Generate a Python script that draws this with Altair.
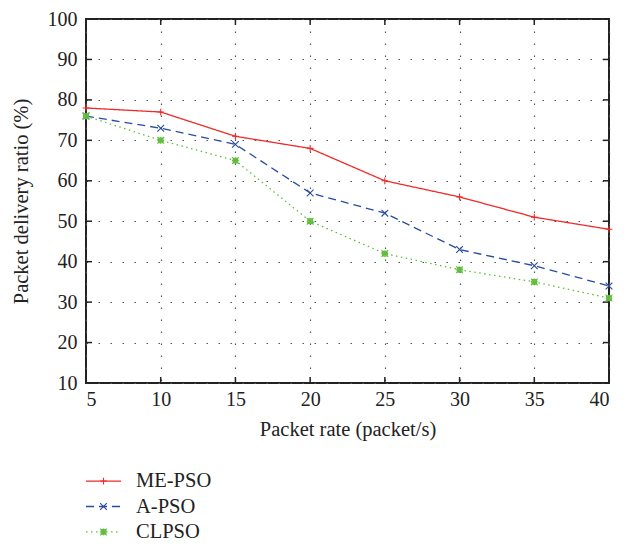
import altair as alt
import pandas as pd

# ---- data ----
packet_rate = [5, 10, 15, 20, 25, 30, 35, 40]
me_pso = [78, 77, 71, 68, 60, 56, 51, 48]
a_pso = [76, 73, 69, 57, 52, 43, 39, 34]
clpso = [76, 70, 65, 50, 42, 38, 35, 31]
series_names = ["ME-PSO", "A-PSO", "CLPSO"]
x_ticks = [5, 10, 15, 20, 25, 30, 35, 40]
y_ticks = [10, 20, 30, 40, 50, 60, 70, 80, 90, 100]

colors = ["#ee2a2a", "#2b4ba0", "#62bd3c"]
dashes = [[1, 0], [8, 5], [1.5, 3.5]]
shapes = [
    "M-1,0H1M0,-1V1",
    "M-1,-1L1,1M-1,1L1,-1",
    "M-1,-1L1,1M-1,1L1,-1M-1,0H1M0,-1V1M-0.7,-0.7H0.7V0.7H-0.7Z",
]

rows = []
for name, vals in zip(series_names, [me_pso, a_pso, clpso]):
    for x, v in zip(packet_rate, vals):
        rows.append({"rate": x, "pdr": v, "series": name})
df = pd.DataFrame(rows)

W, H = 523, 364
FONT = "Liberation Serif"

xs = alt.Scale(domain=[5, 40], nice=False, zero=False)
ys = alt.Scale(domain=[10, 100], nice=False, zero=False)
cs = alt.Scale(domain=series_names, range=colors)
ds = alt.Scale(domain=series_names, range=dashes)
ss = alt.Scale(domain=series_names, range=shapes)

x_enc = alt.X(
    "rate:Q", scale=xs, title="Packet rate (packet/s)",
    axis=alt.Axis(values=x_ticks, grid=True, domain=False, ticks=False,
                  labelPadding=6, titlePadding=10),
)
y_enc = alt.Y(
    "pdr:Q", scale=ys, title="Packet delivery ratio (%)",
    axis=alt.Axis(values=y_ticks, grid=True, domain=False, ticks=False,
                  labelPadding=9, titlePadding=16),
)

base = alt.Chart(df)
lines = base.mark_line(strokeWidth=1.3).encode(
    x=x_enc, y=y_enc,
    color=alt.Color("series:N", scale=cs, legend=None),
    strokeDash=alt.StrokeDash("series:N", scale=ds, legend=None),
)
points = base.mark_point(filled=False, size=45, strokeWidth=1.1, opacity=1).encode(
    x=alt.X("rate:Q", scale=xs),
    y=alt.Y("pdr:Q", scale=ys),
    color=alt.Color("series:N", scale=cs, legend=None),
    shape=alt.Shape("series:N", scale=ss, legend=None),
)

ytk = alt.Chart(pd.DataFrame({"t": y_ticks}))
xtk = alt.Chart(pd.DataFrame({"t": x_ticks}))
tick_style = dict(color="#222", strokeWidth=1.5)
ticks_left = ytk.mark_rule(**tick_style).encode(
    y=alt.Y("t:Q", scale=ys), x=alt.value(0), x2=alt.value(6))
ticks_right = ytk.mark_rule(**tick_style).encode(
    y=alt.Y("t:Q", scale=ys), x=alt.value(W - 6), x2=alt.value(W))
ticks_top = xtk.mark_rule(**tick_style).encode(
    x=alt.X("t:Q", scale=xs), y=alt.value(0), y2=alt.value(6))
ticks_bottom = xtk.mark_rule(**tick_style).encode(
    x=alt.X("t:Q", scale=xs), y=alt.value(H - 6), y2=alt.value(H))

main = alt.layer(
    ticks_left, ticks_right, ticks_top, ticks_bottom, lines, points
).properties(width=W, height=H)

# ---- legend panel ----
leg_df = pd.DataFrame({"series": series_names})
ly = alt.Y("series:N", sort=series_names, axis=None,
           scale=alt.Scale(padding=0.5))
leg_base = alt.Chart(leg_df)
leg_lines = leg_base.mark_rule(strokeWidth=1.3).encode(
    y=ly, x=alt.value(0), x2=alt.value(35),
    color=alt.Color("series:N", scale=cs, legend=None),
    strokeDash=alt.StrokeDash("series:N", scale=ds, legend=None),
)
leg_pts = leg_base.mark_point(filled=False, size=45, strokeWidth=1.1, opacity=1).encode(
    y=ly, x=alt.value(17.5),
    color=alt.Color("series:N", scale=cs, legend=None),
    shape=alt.Shape("series:N", scale=ss, legend=None),
)
leg_text = leg_base.mark_text(
    align="left", baseline="middle", font=FONT, fontSize=20.5, color="#222"
).encode(y=ly, x=alt.value(50), text="series:N")
legend = alt.layer(leg_lines, leg_pts, leg_text).properties(width=35, height=89)

chart = alt.vconcat(main, legend, spacing=21).properties(
    padding={"left": 2, "top": 0, "right": 0, "bottom": 0}
).configure_view(
    stroke="#222", strokeWidth=2
).configure_axis(
    labelFont=FONT, titleFont=FONT, labelFontSize=20, titleFontSize=20.5,
    labelColor="#222", titleColor="#222", titleFontWeight="normal",
    gridColor="#555", gridDash=[1.5, 10.5], gridWidth=1.2,
).configure_concat(spacing=21)

# remove frame from the legend panel
spec = chart.to_dict()
spec["vconcat"][1]["view"] = {"stroke": None}
chart = alt.VConcatChart.from_dict(spec)

chart.save("out.html", embed_options={"renderer": "svg", "actions": False})
